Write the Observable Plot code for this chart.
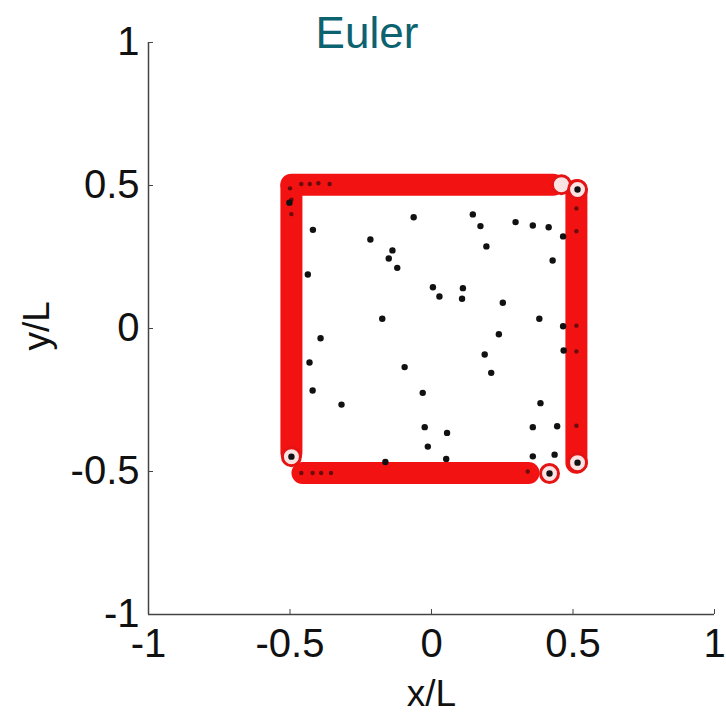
<!DOCTYPE html>
<html>
<head>
<meta charset="utf-8">
<script src="https://cdn.jsdelivr.net/npm/d3@7"></script>
<script src="https://cdn.jsdelivr.net/npm/@observablehq/plot@0.6"></script>
<style>
  html, body { margin: 0; padding: 0; background: #fff; }
</style>
</head>
<body>
<div id="chart"></div>
<script>
// ---- data (in units of L) ----
const title = "Euler";
const xLabel = "x/L";
const yLabel = "y/L";
const xTicks = [-1, -0.5, 0, 0.5, 1];
const yTicks = [-1, -0.5, 0, 0.5, 1];

// boundary particle bands (dense red circles along the square wall)
const bandName = ["top", "left", "right", "bottom"];
const bandX1 = [-0.495, -0.495, 0.512, -0.456];
const bandY1 = [0.503, 0.50, 0.483, -0.505];
const bandX2 = [0.43, -0.495, 0.512, 0.343];
const bandY2 = [0.503, -0.434, -0.469, -0.505];

// individually visible boundary circles at the band ends
const ringX = [0.459, 0.516, 0.516, 0.417, -0.495];
const ringY = [0.503, 0.486, -0.469, -0.507, -0.448];

// dark specks seen inside the red bands
const speckX = [-0.46, -0.43, -0.40, -0.36, -0.495, -0.495, 0.512, 0.512, 0.512, 0.512, 0.512, -0.46, -0.42, -0.39, -0.355, 0.34, -0.50];
const speckY = [0.505, 0.505, 0.508, 0.505, 0.45, 0.40, 0.42, 0.34, 0.01, -0.08, -0.34, -0.505, -0.505, -0.505, -0.505, -0.50, 0.49];

// fluid particles (black dots)
const dotX = [-0.063, 0.146, 0.173, 0.297, 0.358, 0.414, 0.465, -0.419, -0.216, -0.138,
              -0.151, -0.121, 0.194, 0.428, -0.437, 0.005, 0.111, 0.028, 0.108, 0.252,
              -0.174, 0.381, 0.465, -0.392, 0.238, 0.467, -0.431, 0.188, -0.095, 0.211,
              -0.420, -0.031, -0.318, 0.385, -0.024, 0.055, 0.358, 0.444, -0.013, 0.052,
              0.358, 0.435, -0.163, 0.516, 0.516, 0.417, -0.495, -0.502];
const dotY = [0.389, 0.399, 0.358, 0.372, 0.360, 0.354, 0.322, 0.345, 0.311, 0.273,
              0.245, 0.212, 0.287, 0.238, 0.189, 0.144, 0.141, 0.112, 0.104, 0.090,
              0.034, 0.034, 0.008, -0.034, -0.020, -0.077, -0.119, -0.091, -0.135, -0.155,
              -0.217, -0.225, -0.266, -0.261, -0.345, -0.365, -0.345, -0.342, -0.413, -0.456,
              -0.447, -0.441, -0.467, 0.486, -0.469, -0.507, -0.448, 0.44];

// ---- tables built from the arrays ----
const bands = bandName.map((n, i) => ({n, x1: bandX1[i], y1: bandY1[i], x2: bandX2[i], y2: bandY2[i]}));
const rings = ringX.map((x, i) => ({x, y: ringY[i]}));
const specks = speckX.map((x, i) => ({x, y: speckY[i]}));
const dots = dotX.map((x, i) => ({x, y: dotY[i]}));

const font = "'Liberation Sans', Arial, Helvetica, sans-serif";

const chart = Plot.plot({
  width: 726,
  height: 714,
  marginLeft: 148,
  marginRight: 12,
  marginTop: 42,
  marginBottom: 100,
  x: {domain: [-1, 1]},
  y: {domain: [-1, 1]},
  style: {fontFamily: font, background: "#fff", color: "#111"},
  marks: [
    // axis lines (left and bottom, MATLAB style)
    Plot.ruleX([-1], {stroke: "#444", strokeWidth: 1.5}),
    Plot.ruleY([-1], {stroke: "#444", strokeWidth: 1.5}),
    // inward ticks
    Plot.axisX({ticks: xTicks, tickSize: -5, tickFormat: () => "", label: null, stroke: "#444"}),
    Plot.axisY({ticks: yTicks, tickSize: -5, tickFormat: () => "", label: null, stroke: "#444"}),
    // tick labels
    Plot.axisX({ticks: xTicks, tickSize: 0, tickPadding: 14, fontSize: 40, label: null, tickFormat: d => String(d), fill: "#111"}),
    Plot.axisY({ticks: yTicks, tickSize: 0, tickPadding: 9, fontSize: 40, label: null, tickFormat: d => String(d), fill: "#111"}),
    // red wall bands
    Plot.link(bands, {x1: "x1", y1: "y1", x2: "x2", y2: "y2", stroke: "#f21212", strokeWidth: 22, strokeLinecap: "round"}),
    // visible single wall circles
    Plot.dot(rings, {x: "x", y: "y", r: 9, fill: "#fbe3e3", stroke: "#e41414", strokeWidth: 3}),
    Plot.dot(specks, {x: "x", y: "y", r: 2.2, fill: "#6a0c0c"}),
    // fluid particles
    Plot.dot(dots, {x: "x", y: "y", r: 3.2, fill: "#111"}),
    // title
    Plot.text([title], {x: -0.228, y: 1.031, text: d => d, fontSize: 44, fill: "#0d6270", textAnchor: "middle"}),
    // axis labels
    Plot.text([xLabel], {frameAnchor: "bottom", dy: 91, text: d => d, fontSize: 37, fill: "#111"}),
    Plot.text([yLabel], {frameAnchor: "left", dx: -111, dy: 22, rotate: -90, text: d => d, fontSize: 37, fill: "#111"})
  ]
});

document.getElementById("chart").appendChild(chart);
</script>
</body>
</html>
